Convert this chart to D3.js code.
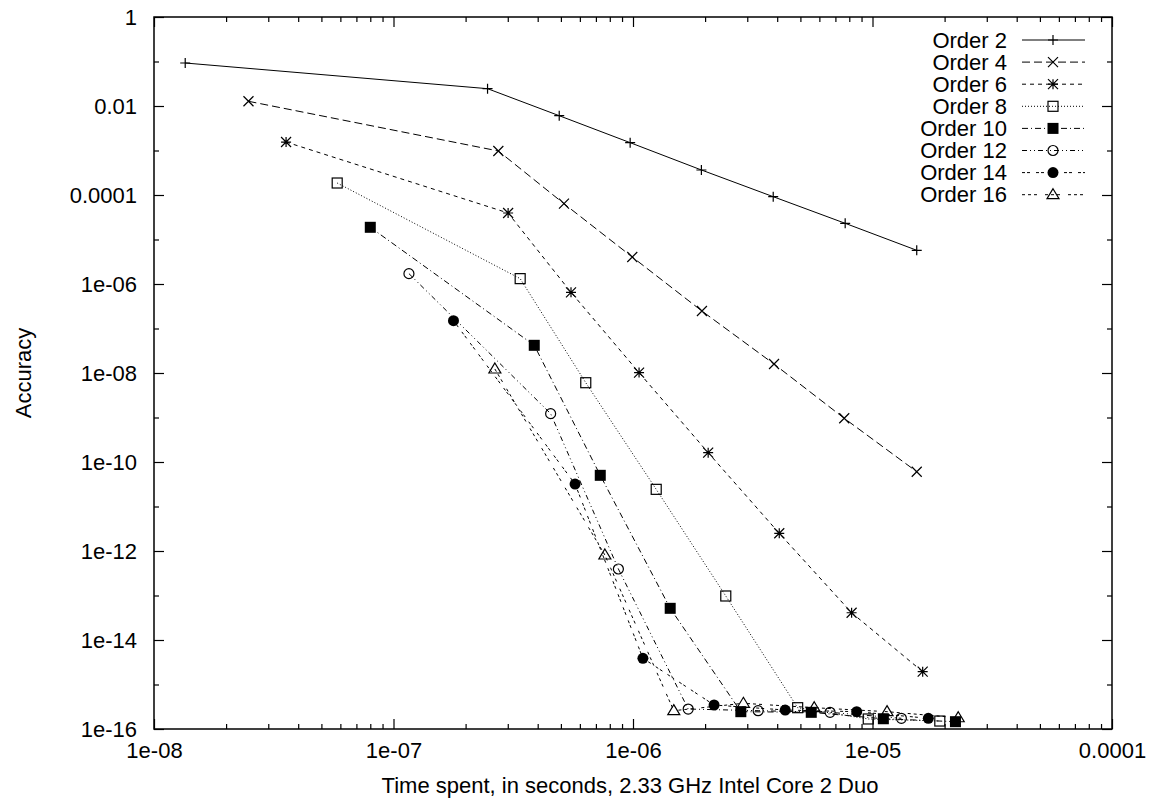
<!DOCTYPE html>
<html>
<head>
<meta charset="utf-8">
<script src="https://cdn.jsdelivr.net/npm/d3@7"></script>
<style>
body { margin: 0; background: #fff; }
text { font-family: "Liberation Sans", Arial, sans-serif; fill: #000; }
</style>
</head>
<body>
<div id="chart"></div>
<script>
// values
var seriesNames = ['Order 2', 'Order 4', 'Order 6', 'Order 8', 'Order 10', 'Order 12', 'Order 14', 'Order 16'];

var time2 = [1.35e-8, 2.47e-7, 4.92e-7, 9.73e-7, 1.93e-6, 3.85e-6, 7.69e-6, 1.53e-5];
var acc2  = [0.0925, 0.0245, 6.05e-3, 1.5e-3, 3.65e-4, 9.16e-5, 2.31e-5, 5.72e-6];

var time4 = [2.48e-8, 2.74e-7, 5.15e-7, 9.93e-7, 1.94e-6, 3.88e-6, 7.62e-6, 1.53e-5];
var acc4  = [0.01276, 9.75e-4, 6.38e-5, 4.04e-6, 2.47e-7, 1.59e-8, 9.6e-10, 6.05e-11];

var time6 = [3.56e-8, 3.01e-7, 5.51e-7, 1.06e-6, 2.06e-6, 4.08e-6, 8.18e-6, 1.62e-5];
var acc6  = [1.55e-3, 3.94e-5, 6.5e-7, 1.02e-8, 1.62e-10, 2.5e-12, 4.1e-14, 1.94e-15];

var time8 = [5.82e-8, 3.38e-7, 6.35e-7, 1.25e-6, 2.44e-6, 4.87e-6, 9.6e-6, 1.91e-5];
var acc8  = [1.86e-4, 1.32e-6, 6.05e-9, 2.43e-11, 9.75e-14, 3.01e-16, 1.68e-16, 1.51e-16];

var time10 = [8.0e-8, 3.87e-7, 7.3e-7, 1.43e-6, 2.82e-6, 5.55e-6, 1.11e-5, 2.22e-5];
var acc10  = [1.88e-5, 4.19e-8, 5.02e-11, 5.15e-14, 2.45e-16, 2.37e-16, 1.7e-16, 1.46e-16];

var time12 = [1.16e-7, 4.53e-7, 8.69e-7, 1.70e-6, 3.33e-6, 6.65e-6, 1.32e-5];
var acc12  = [1.71e-6, 1.22e-9, 3.94e-13, 2.81e-16, 2.58e-16, 2.37e-16, 1.74e-16];

var time14 = [1.78e-7, 5.73e-7, 1.10e-6, 2.18e-6, 4.32e-6, 8.59e-6, 1.71e-5];
var acc14  = [1.5e-7, 3.2e-11, 3.88e-15, 3.46e-16, 2.67e-16, 2.45e-16, 1.74e-16];

var time16 = [2.65e-7, 7.63e-7, 1.48e-6, 2.89e-6, 5.71e-6, 1.15e-5, 2.28e-5];
var acc16  = [1.23e-8, 8.13e-13, 2.58e-16, 3.78e-16, 3.01e-16, 2.45e-16, 1.79e-16];

var xTickValues = [1e-8, 1e-7, 1e-6, 1e-5, 1e-4];
var xTickLabels = ['1e-08', '1e-07', '1e-06', '1e-05', '0.0001'];
var yTickValues = [1, 1e-2, 1e-4, 1e-6, 1e-8, 1e-10, 1e-12, 1e-14, 1e-16];
var yTickLabels = ['1', '0.01', '0.0001', '1e-06', '1e-08', '1e-10', '1e-12', '1e-14', '1e-16'];

var allTimes = [time2, time4, time6, time8, time10, time12, time14, time16];
var allAccs = [acc2, acc4, acc6, acc8, acc10, acc12, acc14, acc16];

// line + marker styles, gnuplot-ish
var dashes = ['none', '8,4', '4,4', '1,2', '6,3,1,3', '5,3,1,3,1,3', '3,2,3,6', '3,3,3,3,3,8'];
var markers = ['plus', 'cross', 'star', 'square', 'fsquare', 'circle', 'fcircle', 'triangle'];

var svgWidth = 1157;
var svgHeight = 801;
var plotLeft = 154, plotRight = 1112, plotTop = 17, plotBottom = 729;
var fontSize = 22;

var svg = d3.select('#chart')
    .append('svg')
    .attr('width', svgWidth)
    .attr('height', svgHeight);

var xScale = d3.scaleLog().domain([1e-8, 1e-4]).range([plotLeft, plotRight]);
var yScale = d3.scaleLog().domain([1e-16, 1]).range([plotBottom, plotTop]);

// minor tick positions
var xMinor = [];
for (var e = -8; e < -4; e++) {
    for (var m = 2; m < 10; m++) xMinor.push(m * Math.pow(10, e));
}
var yMinor = [];
for (var e = -15; e < 0; e += 2) yMinor.push(Math.pow(10, e));

function tidy(g) {
    g.select('.domain').remove();
    g.selectAll('line').attr('stroke', '#000').attr('stroke-width', 1.2);
    g.selectAll('text').attr('font-size', fontSize).attr('font-family', '"Liberation Sans", Arial, sans-serif').attr('fill', '#000');
}

// bottom
svg.append('g').attr('transform', `translate(0,${plotBottom})`)
    .call(d3.axisBottom(xScale).tickValues(xTickValues).tickSize(-10).tickPadding(13)
        .tickFormat((d, i) => xTickLabels[i]))
    .call(tidy);
svg.append('g').attr('transform', `translate(0,${plotBottom})`)
    .call(d3.axisBottom(xScale).tickValues(xMinor).tickSize(-5).tickFormat(''))
    .call(tidy);
// top mirror
svg.append('g').attr('transform', `translate(0,${plotTop})`)
    .call(d3.axisTop(xScale).tickValues(xTickValues).tickSize(-10).tickFormat(''))
    .call(tidy);
svg.append('g').attr('transform', `translate(0,${plotTop})`)
    .call(d3.axisTop(xScale).tickValues(xMinor).tickSize(-5).tickFormat(''))
    .call(tidy);
// left
svg.append('g').attr('transform', `translate(${plotLeft},0)`)
    .call(d3.axisLeft(yScale).tickValues(yTickValues).tickSize(-10).tickPadding(17)
        .tickFormat((d, i) => yTickLabels[i]))
    .call(tidy);
svg.append('g').attr('transform', `translate(${plotLeft},0)`)
    .call(d3.axisLeft(yScale).tickValues(yMinor).tickSize(-5).tickFormat(''))
    .call(tidy);
// right mirror
svg.append('g').attr('transform', `translate(${plotRight},0)`)
    .call(d3.axisRight(yScale).tickValues(yTickValues).tickSize(-10).tickFormat(''))
    .call(tidy);
svg.append('g').attr('transform', `translate(${plotRight},0)`)
    .call(d3.axisRight(yScale).tickValues(yMinor).tickSize(-5).tickFormat(''))
    .call(tidy);

svg.append('rect')
    .attr('x', plotLeft).attr('y', plotTop)
    .attr('width', plotRight - plotLeft).attr('height', plotBottom - plotTop)
    .attr('fill', 'none').attr('stroke', '#000').attr('stroke-width', 1.5);

svg.append('text')
    .attr('x', 630)
    .attr('y', 793)
    .attr('text-anchor', 'middle')
    .attr('font-size', fontSize)
    .text('Time spent, in seconds, 2.33 GHz Intel Core 2 Duo');

svg.append('text')
    .attr('transform', `translate(31,${(plotTop + plotBottom) / 2}) rotate(-90)`)
    .attr('text-anchor', 'middle')
    .attr('font-size', fontSize)
    .text('Accuracy');

function drawMarker(g, type, x, y) {
    var s = 5;
    if (type == 'plus') {
        g.append('path').attr('d', `M${x - s},${y}H${x + s}M${x},${y - s}V${y + s}`)
            .attr('stroke', '#000').attr('stroke-width', 1.2);
    } else if (type == 'cross') {
        g.append('path').attr('d', `M${x - s},${y - s}L${x + s},${y + s}M${x - s},${y + s}L${x + s},${y - s}`)
            .attr('stroke', '#000').attr('stroke-width', 1.2);
    } else if (type == 'star') {
        g.append('path').attr('d', `M${x - s},${y}H${x + s}M${x},${y - s}V${y + s}M${x - s},${y - s}L${x + s},${y + s}M${x - s},${y + s}L${x + s},${y - s}`)
            .attr('stroke', '#000').attr('stroke-width', 1.2);
    } else if (type == 'square') {
        g.append('rect').attr('x', x - s).attr('y', y - s).attr('width', 2 * s).attr('height', 2 * s)
            .attr('fill', 'none').attr('stroke', '#000').attr('stroke-width', 1.2);
    } else if (type == 'fsquare') {
        g.append('rect').attr('x', x - 5.5).attr('y', y - 5.5).attr('width', 11).attr('height', 11)
            .attr('fill', '#000');
    } else if (type == 'circle') {
        g.append('circle').attr('cx', x).attr('cy', y).attr('r', 5)
            .attr('fill', 'none').attr('stroke', '#000').attr('stroke-width', 1.2);
    } else if (type == 'fcircle') {
        g.append('circle').attr('cx', x).attr('cy', y).attr('r', 5.5).attr('fill', '#000');
    } else if (type == 'triangle') {
        g.append('path').attr('d', `M${x},${y - 6}L${x + 6},${y + 4}L${x - 6},${y + 4}Z`)
            .attr('fill', 'none').attr('stroke', '#000').attr('stroke-width', 1.2);
    }
}

var line = d3.line().x(d => xScale(d[0])).y(d => yScale(d[1]));

seriesNames.forEach(function(name, i) {
    var pts = allTimes[i].map((t, j) => [t, allAccs[i][j]]);
    var g = svg.append('g');
    g.append('path')
        .datum(pts)
        .attr('d', line)
        .attr('fill', 'none')
        .attr('stroke', '#000')
        .attr('stroke-width', 1)
        .attr('stroke-dasharray', dashes[i]);
    pts.forEach(p => drawMarker(g, markers[i], xScale(p[0]), yScale(p[1])));

    // legend entry
    var ly = 40 + i * 22.1;
    svg.append('text')
        .attr('x', 1007)
        .attr('y', ly)
        .attr('dy', '0.35em')
        .attr('text-anchor', 'end')
        .attr('font-size', fontSize)
        .text(name);
    var lg = svg.append('g');
    lg.append('line')
        .attr('x1', 1022).attr('x2', 1085)
        .attr('y1', ly).attr('y2', ly)
        .attr('stroke', '#000').attr('stroke-width', 1)
        .attr('stroke-dasharray', dashes[i]);
    drawMarker(lg, markers[i], 1053, ly);
});
</script>
</body>
</html>
